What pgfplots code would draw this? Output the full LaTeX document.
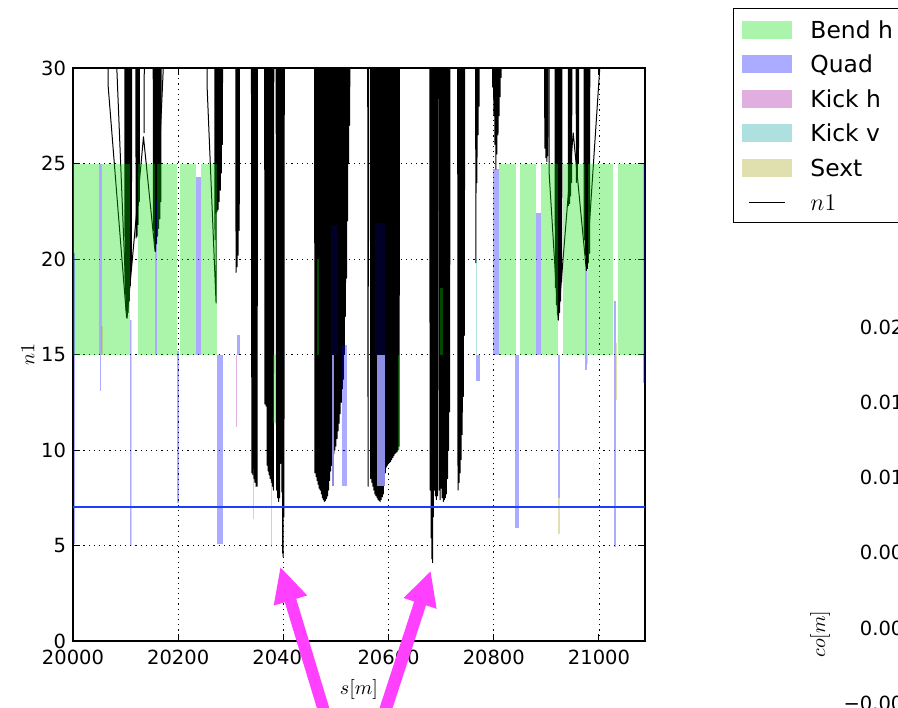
\documentclass[border=0pt]{standalone}
\usepackage{fontspec}
\setmainfont{DejaVu Sans}
\usepackage{pgfplots}
\pgfplotsset{compat=1.18}
\definecolor{bendc}{rgb}{0,0.88,0}
\definecolor{quadc}{rgb}{0,0,1}
\definecolor{quadlow}{rgb}{0.55,0.55,0.9}
\definecolor{kickhc}{rgb}{0.64,0.05,0.64}
\definecolor{kickvc}{rgb}{0.05,0.64,0.64}
\definecolor{sextc}{rgb}{0.64,0.64,0.05}
\definecolor{arrowc}{rgb}{1,0.25,1}
\definecolor{refline}{rgb}{0.1,0.25,1}
\pgfplotsset{n1/.style={black, line width=0.5pt, line join=round, forget plot}}
\newcommand{\elem}[5]{\addplot[fill=#1, fill opacity=0.33, draw=none, forget plot] coordinates {(#2,#4) (#3,#4) (#3,#5) (#2,#5)};}
\begin{document}
\begin{tikzpicture}
\begin{axis}[
  at={(0pt,0pt)}, anchor=south west,
  scale only axis, width=286pt, height=286.5pt,
  xmin=20000, xmax=21087.5, ymin=0, ymax=30,
  scaled x ticks=false, scaled y ticks=false,
  xtick={20000,20200,20400,20600,20800,21000},
  xticklabels={20000,20200,20400,20600,20800,21000},
  ytick={0,5,10,15,20,25,30},
  yticklabels={0,5,10,15,20,25,30},
  tick align=inside, major tick length=3.5pt,
  tick style={black, line width=0.5pt},
  grid=major, grid style={black, line width=0.4pt, dash pattern=on 0.6pt off 2pt},
  axis line style={line width=0.6pt},
  tick label style={font=\fontsize{9.75}{12}\selectfont},
  xticklabel style={yshift=-1.2pt},
  label style={font=\fontsize{9.75}{12}\selectfont},
  xlabel={$s[m]$}, xlabel style={at={(axis description cs:0.5,-0.0855)}, anchor=center},
  ylabel={$n1$}, ylabel style={at={(axis description cs:-0.0787,0.5)}, anchor=center},
  legend style={at={(1.1538,1.1042)}, anchor=north west, draw=black, line width=0.5pt, fill=white,
    font=\fontsize{11.7}{14}\selectfont, inner xsep=4.5pt, inner ysep=1.8pt, row sep=0pt, column sep=9pt,
    nodes={inner sep=0pt, text height=12.85pt, text depth=4.4pt}},
  legend cell align=left,
]
\addlegendimage{legend image code/.code={\fill[bendc, fill opacity=0.33, draw=none] (0pt,-4.5pt) rectangle (25pt,4.5pt);}}
\addlegendentry{Bend h}
\addlegendimage{legend image code/.code={\fill[quadc, fill opacity=0.33, draw=none] (0pt,-4.5pt) rectangle (25pt,4.5pt);}}
\addlegendentry{Quad}
\addlegendimage{legend image code/.code={\fill[kickhc, fill opacity=0.33, draw=none] (0pt,-4.5pt) rectangle (25pt,4.5pt);}}
\addlegendentry{Kick h}
\addlegendimage{legend image code/.code={\fill[kickvc, fill opacity=0.33, draw=none] (0pt,-4.5pt) rectangle (25pt,4.5pt);}}
\addlegendentry{Kick v}
\addlegendimage{legend image code/.code={\fill[sextc, fill opacity=0.33, draw=none] (0pt,-4.5pt) rectangle (25pt,4.5pt);}}
\addlegendentry{Sext}
\addlegendimage{legend image code/.code={\draw[black, line width=0.5pt] (3.5pt,0pt) -- (21.5pt,0pt);}}
\addlegendentry{$n1$}

% ---- n1 curve (values above 30 lie outside the plot) ----
\addplot[n1] coordinates {(20067,40) (20067,29) (20102,16.9)};
\addplot[n1] coordinates {(20083,40) (20083,30.2) (20102,17.2)};
\addplot[n1] coordinates {(20098,40) (20099,18.2) (20100,40) (20101,17.3) (20102,40) (20103,16.9) (20104,40) (20105,17.2) (20106,40) (20107,17.8) (20108,40) (20109,18.6) (20110,40) (20111,19.5) (20112,40)};
\addplot[n1] coordinates {(20103,17) (20134,26.4) (20156,20.4) (20172,30.2) (20172,40)};
\addplot[n1] coordinates {(20137,40) (20135,26.6)};
\addplot[n1] coordinates {(20119,40) (20120,21.1) (20121,40) (20122,21.2) (20123,40) (20124,21.8) (20125,40) (20126,23) (20127,40)};
\addplot[n1] coordinates {(20152,40) (20153,21.5) (20154,40) (20155,20.7) (20156,40) (20157,20.4) (20158,40) (20159,20.8) (20160,40) (20161,21.2) (20162,40) (20163,21.6) (20164,40) (20165,22.1) (20166,40) (20167,23) (20168,40)};
\addplot[n1] coordinates {(20255,40) (20255,29) (20272,17.7) (20273,40)};
\addplot[n1] coordinates {(20269,40) (20270,21) (20271,40) (20272,22.4) (20273,40) (20274,22.5) (20275,40) (20276,22.6) (20277,40) (20278,23) (20279,40) (20280,23.6) (20281,40) (20282,24.5) (20283,40) (20284,26) (20285,40)};
\addplot[n1] coordinates {(20309,40) (20310,19.3) (20311,40) (20312,19.6) (20313,40) (20314,20.2) (20315,40) (20316,21.5) (20317,40)};
\addplot[n1] coordinates {(20339,40) (20340,8.8) (20341,40) (20342,8.7) (20343,40) (20344,8.5) (20345,40) (20346,8.3) (20347,40) (20348,8.1) (20349,40) (20350,8.1) (20351,40)};
\addplot[n1] coordinates {(20364,40) (20365,12.4) (20366,40) (20367,12.3) (20368,40) (20369,9.2) (20370,40) (20371,8.9) (20372,40) (20373,8.7) (20374,40) (20375,8.5) (20376,40) (20377,8.3) (20378,40) (20379,8.1) (20380,40) (20381,7.9) (20382,40)};
\addplot[n1] coordinates {(20386,40) (20387,7.9) (20388,40) (20389,7.5) (20390,40) (20391,7.3) (20392,40) (20393,7.5) (20394,40) (20395,9.3) (20396,40) (20397,7.8) (20398,40) (20398.5,4.6) (20399,40) (20399.5,4.4) (20400,40) (20401,6.5) (20402,40)};
\addplot[n1] coordinates {(20459,40) (20460,8.8) (20461,40) (20462,8.6) (20463,40) (20464,8.4) (20465,40) (20466,8.2) (20467,40) (20468,8.0) (20469,40) (20470,7.9) (20471,40) (20472,7.7) (20473,40) (20474,7.5) (20475,40) (20476,7.4) (20477,40) (20478,7.3) (20479,40) (20480,7.35) (20481,40) (20482,7.45) (20483,40) (20484,7.6) (20485,40) (20486,7.9) (20487,40) (20488,8.4) (20489,40) (20490,8.9) (20491,40) (20492,9.2) (20493,40) (20494,9.5) (20495,40) (20496,9.8) (20497,40) (20498,10.0) (20499,40) (20500,10.2) (20501,40) (20502,10.6) (20503,40) (20504,11.0) (20505,40) (20506,11.4) (20507,40) (20508,11.9) (20509,40) (20510,12.5) (20511,40) (20512,13.2) (20513,40) (20514,13.7) (20515,40) (20516,15) (20517,40) (20518,17) (20519,40) (20520,19) (20521,40) (20522,22) (20523,40) (20524,25) (20525,40) (20526,27) (20527,40)};
\addplot[n1] coordinates {(20560,40) (20561,8.1) (20562,40)};
\addplot[n1] coordinates {(20565,40) (20566,8.5) (20567,40) (20568,8.3) (20569,40) (20570,8.1) (20571,40) (20572,7.9) (20573,40) (20574,7.7) (20575,40) (20576,7.6) (20577,40) (20578,7.5) (20579,40) (20580,7.4) (20581,40) (20582,7.35) (20583,40) (20584,7.3) (20585,40) (20586,7.4) (20587,40) (20588,7.55) (20589,40) (20590,7.7) (20591,40) (20592,8.3) (20593,40) (20594,8.8) (20595,40) (20596,9.1) (20597,40) (20598,9.2) (20599,40) (20600,9.3) (20601,40) (20602,9.35) (20603,40) (20604,9.4) (20605,40) (20606,9.5) (20607,40) (20608,9.6) (20609,40) (20610,9.7) (20611,40) (20612,9.8) (20613,40) (20614,9.85) (20615,40) (20616,9.9) (20617,40) (20618,10.0) (20619,40) (20620,10.2) (20621,40)};
\addplot[n1] coordinates {(20678,40) (20679,7.9) (20680,40) (20681,5.4) (20682,40) (20682.5,4.3) (20683,40) (20683.5,4.1) (20684,40) (20685,6.5) (20686,40) (20687,7.9) (20688,40) (20689,7.6) (20690,40) (20691,7.4) (20692,40) (20693,7.6) (20694,40)};
\addplot[n1] coordinates {(20695,40) (20696,7.9) (20697,40) (20698,7.4) (20699,40) (20700,8.0) (20701,40) (20702,7.5) (20703,40) (20704,7.3) (20705,40) (20706,7.4) (20707,40) (20708,7.5) (20709,40) (20710,7.7) (20711,40) (20712,8.5) (20713,40) (20714,10) (20715,40) (20716,12) (20717,40)};
\addplot[n1] coordinates {(20731,40) (20732,7.9) (20733,40) (20734,8.3) (20735,40) (20736,8.8) (20737,40) (20738,9.5) (20739,40) (20740,10.8) (20741,40) (20742,12.8) (20743,40) (20744,16) (20745,40)};
\addplot[n1] coordinates {(20765,40) (20766,19.8) (20767,40) (20768,24) (20769,40) (20770,26.5) (20771,40) (20772,28) (20773,40)};
\addplot[n1] coordinates {(20797,40) (20798,29) (20799,40) (20800,27.5) (20801,40) (20802,26) (20803,40) (20804,24.7) (20805,40) (20806,25.5) (20807,40) (20808,26.5) (20809,40) (20810,27.5) (20811,40) (20812,28.5) (20813,40) (20814,29.5) (20815,40)};
\addplot[n1] coordinates {(20896,40) (20897,25.8) (20898,40) (20899,25.3) (20900,40) (20901,25.1) (20902,40) (20903,25.4) (20904,40)};
\addplot[n1] coordinates {(20905,40) (20905,24.6) (20922.5,16.8)};
\addplot[n1] coordinates {(20916,40) (20917,18.5) (20918,40) (20919,17.6) (20920,40) (20921,17.1) (20922,40) (20923,16.8) (20924,40) (20925,17.2) (20926,40) (20927,17.8) (20928,40) (20929,18.8) (20930,40)};
\addplot[n1] coordinates {(20923,17) (20951,26.6) (20976,19.4) (21002,30.2) (21002,40)};
\addplot[n1] coordinates {(20941,40) (20942,22.8) (20943,40) (20944,22.9) (20945,40) (20946,23.3) (20947,40) (20948,24) (20949,40)};
\addplot[n1] coordinates {(20956,40) (20957,24) (20958,40) (20959,24.2) (20960,40) (20961,25) (20962,40)};
\addplot[n1] coordinates {(20971,40) (20972,21) (20973,40) (20974,20.2) (20975,40) (20976,19.4) (20977,40) (20978,19.5) (20979,40) (20980,19.8) (20981,40) (20982,20.3) (20983,40)};

% ---- elements: bends ----
\elem{bendc}{20000}{20050}{15}{25}
\elem{bendc}{20055}{20108}{15}{25}
\elem{bendc}{20124}{20155}{15}{25}
\elem{bendc}{20159}{20197}{15}{25}
\elem{bendc}{20203}{20234}{15}{25}
\elem{bendc}{20243}{20273}{15}{25}
\elem{bendc}{20381}{20386}{11.4}{15}
\elem{bendc}{20464}{20468}{15}{20}
\elem{bendc}{20617}{20621}{10}{15}
\elem{bendc}{20698}{20703}{15}{18.5}
\elem{bendc}{20810}{20842}{15}{25}
\elem{bendc}{20850}{20880}{15}{25}
\elem{bendc}{20890}{20922}{15}{25}
\elem{bendc}{20932}{20974}{15}{25}
\elem{bendc}{20980}{21027}{15}{25}
\elem{bendc}{21037}{21083}{15}{25}
% ---- quads ----
\elem{quadc}{20000}{20003}{5.1}{20.3}
\elem{quadc}{20050}{20055}{15}{25}
\elem{quadc}{20051}{20053}{13.1}{15}
\elem{quadc}{20108}{20111}{5}{16.8}
\elem{quadc}{20155}{20159}{15}{23.1}
\elem{quadc}{20197}{20201}{7.2}{15.2}
\elem{quadc}{20234}{20243}{15}{24.3}
\elem{quadc}{20274}{20285}{5.1}{15}
\elem{quadc}{20312}{20318}{15}{16}
\addplot[fill=quadc, fill opacity=0.16, draw=none, forget plot] coordinates {(20490,15) (20503,15) (20503,21.8) (20490,21.8)};
\elem{quadc}{20511}{20521}{8.1}{15.5}
\addplot[fill=quadc, fill opacity=0.16, draw=none, forget plot] coordinates {(20575,15) (20593,15) (20593,21.9) (20575,21.9)};
\addplot[fill=quadlow, draw=none, forget plot] coordinates {(20578,8.1) (20593,8.1) (20593,15) (20578,15)};
\addplot[fill=quadlow, draw=none, forget plot] coordinates {(20492,8.1) (20497,8.1) (20497,15) (20492,15)};
\elem{quadc}{20767}{20774}{13.6}{15}
\elem{quadc}{20798}{20810}{15}{24.7}
\elem{quadc}{20841}{20848}{5.9}{15}
\elem{quadc}{20880}{20890}{15}{22.4}
\elem{quadc}{20922}{20926}{7.5}{15}
\elem{quadc}{20974}{20978}{14.2}{19.5}
\elem{quadc}{21028}{21032}{4.9}{17.8}
\elem{quadc}{21083}{21087.5}{13.5}{25}
% ---- kickers ----
\elem{kickhc}{20310}{20312}{11.2}{15}
\elem{kickvc}{20342}{20345}{6.4}{9.0}
\elem{kickvc}{20376}{20379}{4.9}{8.4}
\elem{kickvc}{20766}{20769}{15}{20}
% ---- sextupoles ----
\elem{sextc}{20053}{20057}{15}{16.5}
\elem{sextc}{20111}{20113}{5}{16.8}
\elem{sextc}{20923}{20926}{5.6}{7.5}
\elem{sextc}{20978}{20980}{14.5}{19.5}
\elem{sextc}{21032}{21035}{12.6}{15.6}

\addplot[draw=refline, color=refline, line width=0.9pt, forget plot] coordinates {(20000,7) (21087.5,7)};
\end{axis}

\begin{axis}[
  at={(424.9pt,-175.2pt)}, anchor=south west,
  scale only axis, width=300pt, height=358.4pt,
  xmin=0, xmax=1, ymin=-0.02416, ymax=0.0235,
  xtick=\empty,
  ytick={-0.005,0,0.005,0.01,0.015,0.02},
  yticklabels={−0.005,0.000,0.005,0.010,0.015,0.020},
  tick align=inside, major tick length=3.5pt,
  tick label style={font=\fontsize{9.75}{12}\selectfont},
]
\end{axis}

\begin{scope}[x=0.5pt, y=-0.5pt, shift={(-36.5pt,320.5pt)}]
\fill[arrowc] (280.5,567.5) -- (307.2,595.4) -- (296.2,598.8) -- (333.9,723.2) -- (322.5,726.6) -- (284.8,602.2) -- (273.7,605.6) -- cycle;
\fill[arrowc] (430.5,571.5) -- (436.6,608.8) -- (426.0,605.3) -- (385.7,729.1) -- (373.9,725.3) -- (414.2,601.5) -- (403.6,598.0) -- cycle;
\node[rotate=90, font=\fontsize{9.75}{12}\selectfont] at (820,634) {$co[m]$};
\pgfresetboundingbox
\useasboundingbox (0,0) rectangle (898,707);
\end{scope}
\end{tikzpicture}
\end{document}
